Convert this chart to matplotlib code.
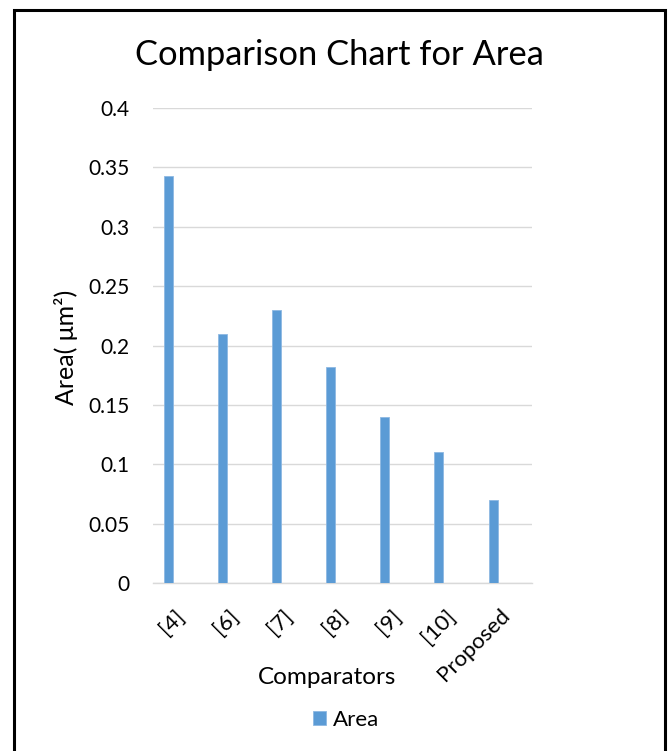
import matplotlib
matplotlib.use("Agg")
import matplotlib.pyplot as plt
from matplotlib.patches import Rectangle
from matplotlib.transforms import ScaledTranslation

categories = ["[4]", "[6]", "[7]", "[8]", "[9]", "[10]", "Proposed"]
area = [0.343, 0.21, 0.23, 0.182, 0.14, 0.11, 0.07]
yticks = [0, 0.05, 0.1, 0.15, 0.2, 0.25, 0.3, 0.35, 0.4]
ytick_labels = ["0", "0.05", "0.1", "0.15", "0.2", "0.25", "0.3", "0.35", "0.4"]

plt.rcParams['font.family'] = ['Lato', 'DejaVu Sans']

W, H = 671, 751
fig = plt.figure(figsize=(W / 100, H / 100), dpi=100)
ax = fig.add_axes([153 / W, 1 - 583 / H, (532 - 153) / W, (583 - 108) / H])

x = list(range(len(categories)))
ax.bar(x, area, width=0.166, color="#5b9bd5", edgecolor="#8db8e2", linewidth=0.6,
       label="Area", zorder=3)

ax.set_ylim(0, 0.4)
ax.set_xlim(-0.277, 6.716)
ax.set_yticks(yticks)
ax.set_yticklabels(ytick_labels)
ax.set_xticks(x)
ax.set_xticklabels(categories, rotation=45, ha="right", va="top", rotation_mode="anchor")
ax.tick_params(axis="both", length=0, colors="black")
ax.tick_params(axis="y", pad=17, labelsize=15)
ax.tick_params(axis="x", pad=16, labelsize=16)
offset = ScaledTranslation(6 / 100, 0, fig.dpi_scale_trans)
for lbl in ax.get_xticklabels():
    lbl.set_transform(lbl.get_transform() + offset)
ax.grid(axis="y", color="#d9d9d9", linewidth=1.0, zorder=0)
for s in ["left", "right", "top"]:
    ax.spines[s].set_visible(False)
ax.spines["bottom"].set_color("#d9d9d9")
ax.spines["bottom"].set_linewidth(1.0)

fig.text(339 / W, 1 - 55 / H, "Comparison Chart for Area", ha="center", va="center", fontsize=24.8)
fig.text(66 / W, 1 - 347 / H, "Area( μm²)", ha="center", va="center", rotation=90, fontsize=18)
fig.text(327 / W, 1 - 677 / H, "Comparators", ha="center", va="center", fontsize=17.5)

handles, labels = ax.get_legend_handles_labels()
fig.legend(handles, labels, loc="center", bbox_to_anchor=(346 / W, 1 - 720 / H), frameon=False,
           fontsize=16, handlelength=0.6, handleheight=0.6, handletextpad=0.3)

border = Rectangle((14 / W, -0.02), (665 - 14) / W, 1 - 10 / H + 0.02, transform=fig.transFigure,
                   fill=False, edgecolor="black", linewidth=2.2, clip_on=False)
fig.patches.append(border)

fig.savefig("out.png", dpi=100)
